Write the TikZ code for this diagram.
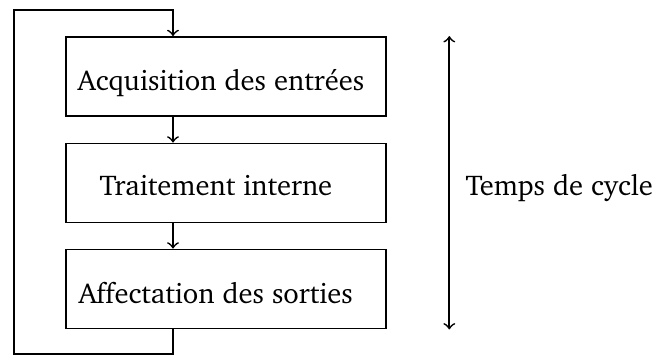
\documentclass[tikz,border=0pt]{standalone}
\usepackage[T1]{fontenc}
\usepackage{charter}
\tikzset{
  every picture/.style={x=0.35pt,y=-0.35pt},
  stage/.style={draw,line width=0.6pt,rectangle,minimum width=112pt,minimum height=27.7pt,inner sep=0pt},
  lbl/.style={inner sep=0pt,anchor=base west,font=\fontsize{10}{12}\selectfont},
  conn/.style={line width=0.6pt,->},
}
\begin{document}
\begin{tikzpicture}
\useasboundingbox (0,0) rectangle (658,356);
\node[stage] (b1) at (226,76.5) {};
\node[stage] (b2) at (226,183) {};
\node[stage] (b3) at (226,289) {};
\node[lbl] (t1) at (77,90) {Acquisition des entr\'ees};
\node[lbl] (t2) at (99,195.7) {Traitement interne};
\node[lbl] (t3) at (78,303.3) {Affectation des sorties};
\coordinate (xl) at (173,0);
\coordinate (lb) at (14,354);
\coordinate (lt) at (14,10);
\draw[conn] (b1.south -| xl) -- (b2.north -| xl);
\draw[conn] (b2.south -| xl) -- (b3.north -| xl);
\draw[conn] (b3.south -| xl) -- (xl |- lb) -- (lb) -- (lt) -- (xl |- lt) -- (b1.north -| xl);
\coordinate (ax) at (449.3,0);
\draw[line width=0.6pt,<->] (ax |- b1.north) -- (ax |- b3.south);
\node[lbl] (tc) at (465,195.7) {Temps de cycle};
\end{tikzpicture}
\end{document}
